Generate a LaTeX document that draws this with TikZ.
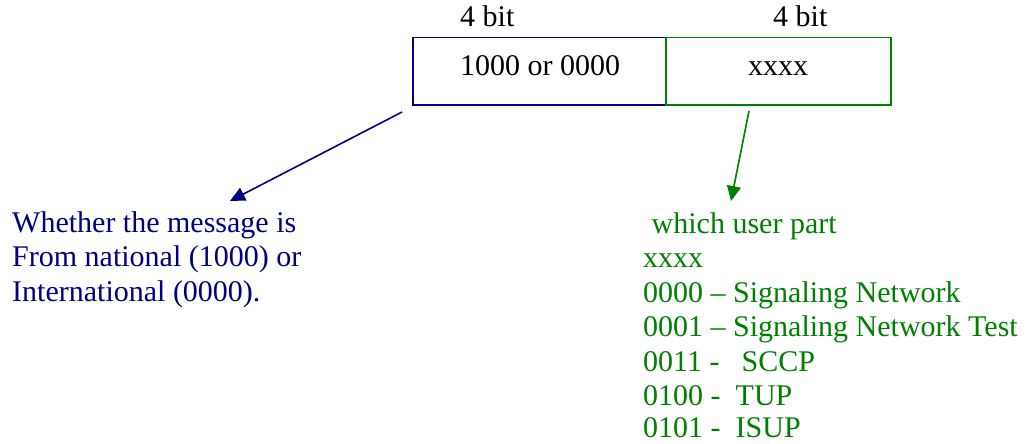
\documentclass[tikz,border=0pt]{standalone}
\usepackage{fontspec}
\setmainfont{Liberation Serif}
\usetikzlibrary{arrows.meta}
\definecolor{navy}{RGB}{0,0,128}
\definecolor{dgreen}{RGB}{0,128,0}
\tikzset{
  txt/.style={inner sep=0pt, anchor=base west, font=\fontsize{30}{34.5}\selectfont},
  field/.style={draw, line width=1.5pt, minimum height=67pt, inner sep=0pt},
  pointer/.style={line width=1.6pt, -{Triangle[length=15pt,width=14pt]}}
}
\begin{document}
\begin{tikzpicture}[x=1pt, y=-1pt]
  \useasboundingbox (0,0) rectangle (1028,444);

  % the two 4-bit fields
  \node[field, navy, minimum width=253pt, anchor=north west] (hi) at (412,37) {};
  \node[field, dgreen, minimum width=225pt, anchor=north west] (lo) at (665,37) {};
  \node[txt] (hival) at (460,75) {1000 or 0000};
  \node[txt] (loval) at (748,75) {xxxx};

  % field widths
  \node[txt] (hibits) at (460,27) {4 bit};
  \node[txt] (lobits) at (773,27) {4 bit};

  % explanation of the upper nibble
  \begin{scope}[every node/.style={txt, text=navy}]
    \node (n1) at (12,232) {Whether the message is};
    \node (n2) at (12,266.5) {From national (1000) or};
    \node (n3) at (12,301) {International (0000).};
  \end{scope}

  % explanation of the lower nibble
  \begin{scope}[every node/.style={txt, text=dgreen}]
    \node (u0) at (643,233) {\hspace{8.5pt}which user part};
    \node (u1) at (643,267.5) {xxxx};
    \node (u2) at (643,302) {0000 -- Signaling Network};
    \node (u3) at (643,336.5) {0001 -- Signaling Network Test};
    \node (u4) at (643,371) {0011 -\hspace{22pt}SCCP};
    \node (u5) at (643,405.5) {0100 -\hspace{15pt}TUP};
    \node (u6) at (643,437) {0101 -\hspace{15pt}ISUP};
  \end{scope}

  % pointers from the fields to their explanations
  \coordinate (hiout) at (402,112);
  \coordinate (hiin) at (230,201);
  \coordinate (loout) at (749,111);
  \coordinate (loin) at (731,201);
  \draw[pointer, navy] (hiout) -- (hiin);
  \draw[pointer, dgreen] (loout) -- (loin);
\end{tikzpicture}
\end{document}
